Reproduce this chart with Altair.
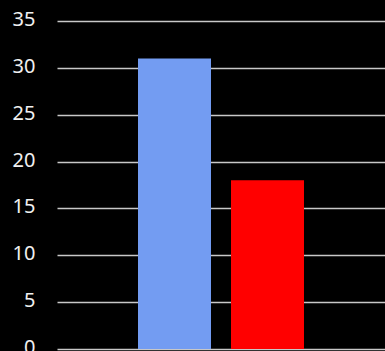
import altair as alt
import pandas as pd

categories = ["A", "B"]
values = [31, 18]
colors = ["#739CF2", "#FF0000"]

df = pd.DataFrame({"cat": categories, "val": values, "color": colors})

chart = alt.Chart(df).mark_bar().encode(
    x=alt.X("cat:N", axis=None,
            scale=alt.Scale(paddingInner=0.215, paddingOuter=0.871)),
    y=alt.Y("val:Q",
            scale=alt.Scale(domain=[0, 35]),
            axis=alt.Axis(values=[0, 5, 10, 15, 20, 25, 30, 35], title=None,
                          grid=True, gridColor="#C8C8C8", gridWidth=1.5,
                          domain=False, ticks=False, labelPadding=22,
                          labelOffset=-1.5,
                          labelColor="#F0F0F0", labelFontSize=20,
                          labelFont="Noto Sans")),
    color=alt.Color("color:N", scale=None),
).properties(
    width=328, height=328,
    background="#000000",
    padding={"left": 57, "top": 21, "right": 0, "bottom": 2},
    autosize=alt.AutoSizeParams(type="none"),
).configure_view(stroke=None)

chart.save("out.html", embed_options={"renderer": "svg", "actions": False})
